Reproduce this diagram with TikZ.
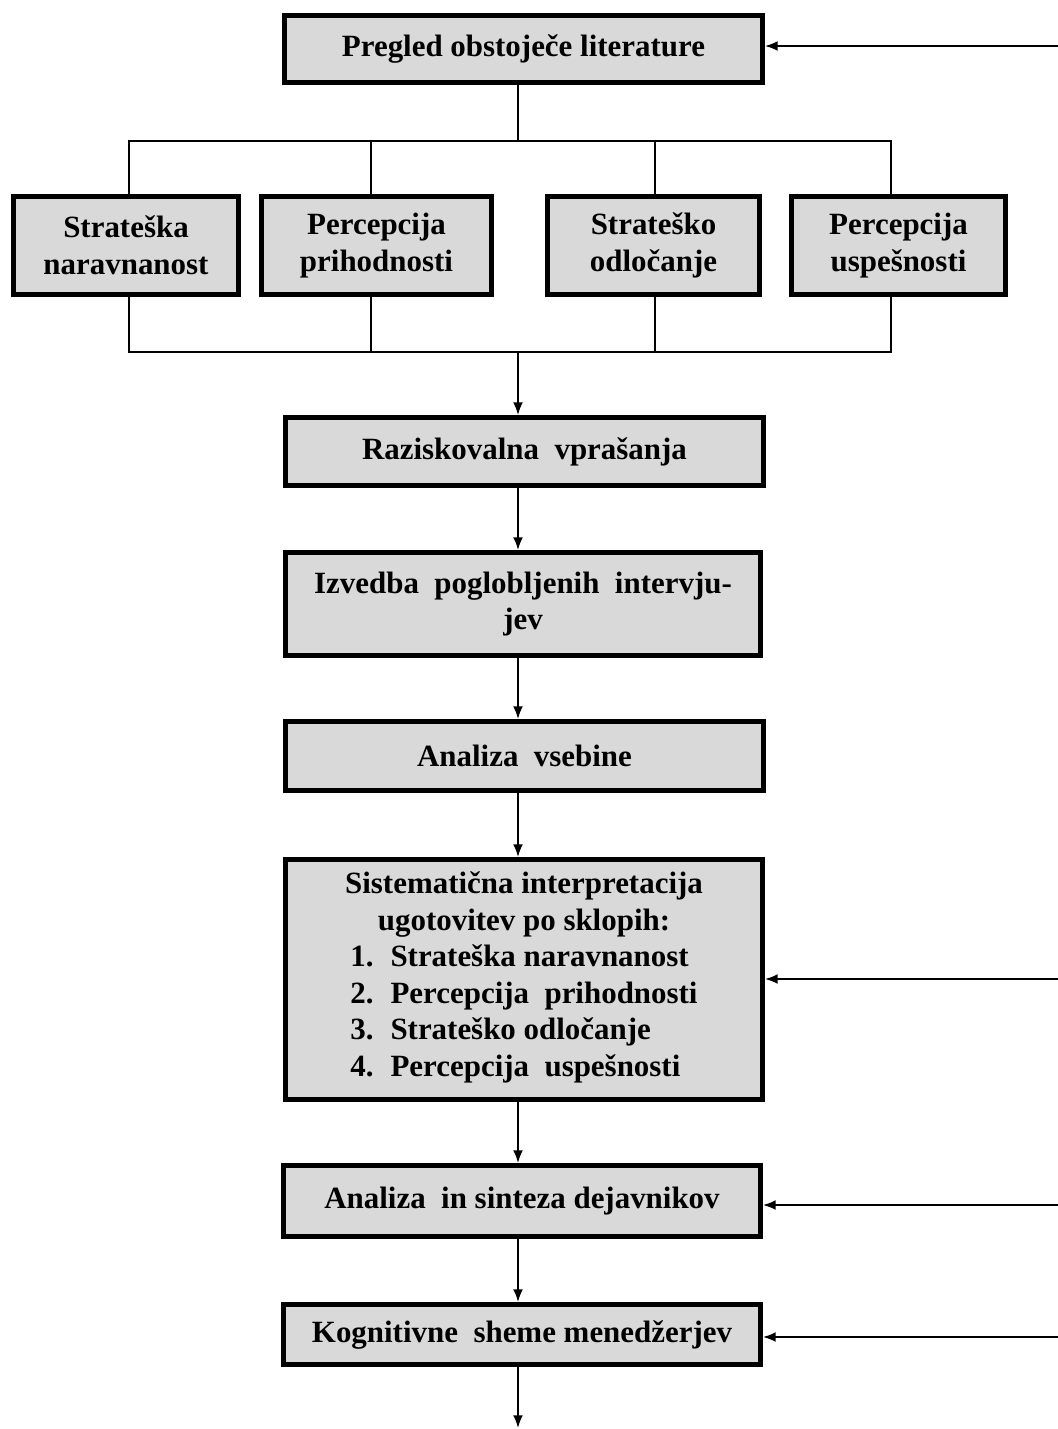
\documentclass[tikz,border=0pt]{standalone}
\usepackage{fontspec}
\setmainfont{Liberation Serif}
\usetikzlibrary{calc}
\usetikzlibrary{arrows.meta}
\definecolor{sivo}{RGB}{217,217,217}
\tikzset{
    korak/.style={draw,line width=3.5pt,fill=sivo,align=center,inner sep=0pt,
        font=\bfseries\fontsize{22}{26}\selectfont},
    vel/.style 2 args={minimum width=#1*0.025cm,minimum height=#2*0.025cm},
    crta/.style={line width=0.8pt},
    puscica/.style={-{Latex[length=9pt,width=7pt]},line width=1.3pt}
}
\begin{document}
\begin{tikzpicture}[x=0.025cm,y=-0.025cm]
                    \useasboundingbox (0,0) rectangle (1058,1429);
                    \node[korak,vel={478}{67}] (lit) at (523.5,49) {Pregled obstoječe literature};
                    \node[korak,vel={225}{98}] (sn) at (126,245.5) {Strateška\\naravnanost};
                    \node[korak,vel={230}{98}] (pp) at (376.5,245.5) {Percepcija\\prihodnosti};
                    \node[korak,vel={212}{98}] (so) at (653.5,245.5) {Strateško\\odločanje};
                    \node[korak,vel={214}{98}] (pu) at (898.5,245.5) {Percepcija\\uspešnosti};
                    \node[korak,vel={478}{68}] (rv) at (524.5,451.5) {Raziskovalna\ \ vprašanja};
                    \node[korak,vel={475}{103}] (ip) at (523,604) {Izvedba\ \ poglobljenih\ \ intervju-\\jev};
                    \node[korak,vel={478}{69}] (av) at (524.5,756) {Analiza\ \ vsebine};
                    \node[korak,vel={477}{240}] (si) at (524,979.5) {Sistematična interpretacija\\
                        ugotovitev po sklopih:\\
                        \begin{tabular}[t]{@{}l@{\hspace{12pt}}l@{}}
                        1. & Strateška naravnanost\\
                        2. & Percepcija\ \ prihodnosti\\
                        3. & Strateško odločanje\\
                        4. & Percepcija\ \ uspešnosti
                        \end{tabular}};
                    \node[korak,vel={477}{71}] (ad) at (522,1201) {Analiza\ \ in sinteza dejavnikov};
                    \node[korak,vel={477}{60}] (km) at (522,1334.5) {Kognitivne\ \ sheme menedžerjev};
                    \coordinate (gor) at (518,141);
                    \coordinate (dol) at (518,352);
                    \coordinate (kon) at (518,1428);
                    \coordinate (d1) at (1058,46);
                    \coordinate (d2) at (1058,979);
                    \coordinate (d3) at (1058,1205);
                    \coordinate (d4) at (1058,1337);
                    \draw[crta] (lit.south -| gor) -- (gor);
                    \draw[crta] (129,0 |- sn.north) |- (gor);
                    \draw[crta] (371,0 |- pp.north) |- (gor);
                    \draw[crta] (655,0 |- so.north) |- (gor);
                    \draw[crta] (891,0 |- pu.north) |- (gor);
                    \draw[crta] (129,0 |- sn.south) |- (dol);
                    \draw[crta] (371,0 |- pp.south) |- (dol);
                    \draw[crta] (655,0 |- so.south) |- (dol);
                    \draw[crta] (891,0 |- pu.south) |- (dol);
                    \draw[puscica] (dol) -- (rv.north -| dol);
                    \draw[puscica] (rv.south -| dol) -- (ip.north -| dol);
                    \draw[puscica] (ip.south -| dol) -- (av.north -| dol);
                    \draw[puscica] (av.south -| dol) -- (si.north -| dol);
                    \draw[puscica] (si.south -| dol) -- (ad.north -| dol);
                    \draw[puscica] (ad.south -| dol) -- (km.north -| dol);
                    \draw[puscica] (km.south -| dol) -- (kon);
                    \draw[puscica] (d1) -- (d1 -| lit.east);
                    \draw[puscica] (d2) -- (d2 -| si.east);
                    \draw[puscica] (d3) -- (d3 -| ad.east);
                    \draw[puscica] (d4) -- (d4 -| km.east);
                \end{tikzpicture}
\end{document}
